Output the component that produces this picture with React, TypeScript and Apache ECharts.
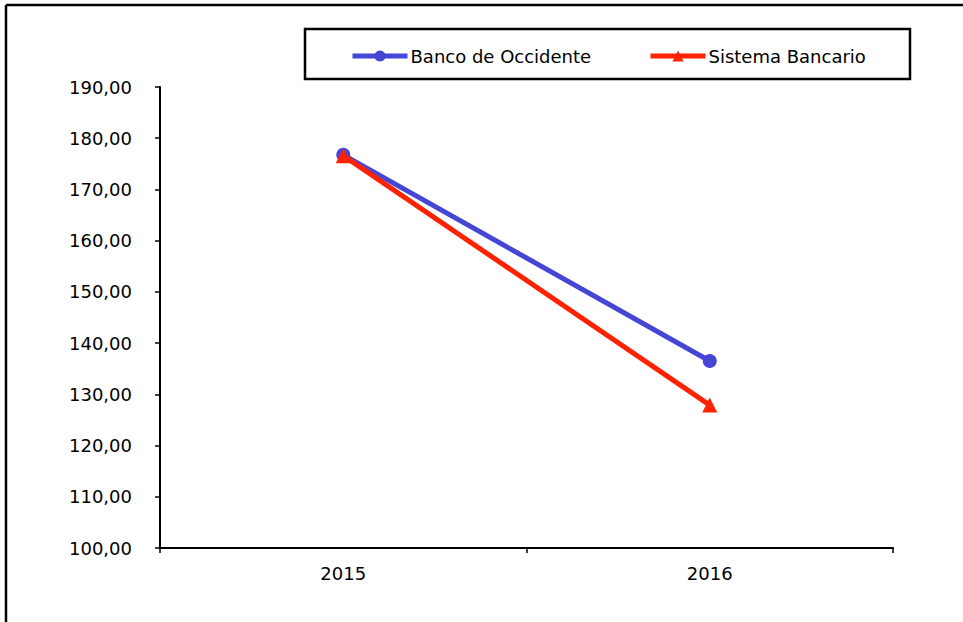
import React, { useEffect, useRef } from "react";
import * as echarts from "echarts";

const categories = ["2015", "2016"];
const bancoOccidente = [176.75, 136.5];
const sistemaBancario = [176.6, 127.9];
const seriesNames = ["Banco de Occidente", "Sistema Bancario"];

const FONT = "DejaVu Sans";

export default function App() {
  const ref = useRef<HTMLDivElement>(null);
  useEffect(() => {
    if (!ref.current) return;
    const chart = echarts.init(ref.current, undefined, { renderer: "svg" });
    const legendBase = {
      top: 47,
      padding: 0,
      itemWidth: 55,
      itemHeight: 14,
      itemGap: 0,
      lineStyle: { width: 5 },
      textStyle: { fontFamily: FONT, fontSize: 18, color: "#000", padding: [0, 0, 0, -2] },
    };
    chart.setOption({
      animation: false,
      backgroundColor: "#ffffff",
      textStyle: { fontFamily: FONT },
      grid: { left: 160, right: 70, top: 87, bottom: 74, containLabel: false },
      legend: [
        { ...legendBase, data: [seriesNames[0]], left: 350 },
        { ...legendBase, data: [seriesNames[1]], left: 648 },
      ],
      xAxis: {
        type: "category",
        data: categories,
        boundaryGap: true,
        axisLine: { lineStyle: { color: "#000", width: 2 } },
        axisTick: { show: true, length: 5, inside: false, lineStyle: { color: "#000", width: 1.5 } },
        axisLabel: { fontFamily: FONT, fontSize: 18, color: "#000", margin: 16 },
        splitLine: { show: false },
      },
      yAxis: {
        type: "value",
        min: 100,
        max: 190,
        interval: 10,
        axisLine: { show: true, lineStyle: { color: "#000", width: 2 } },
        axisTick: { show: true, length: 5, lineStyle: { color: "#000", width: 1.5 } },
        axisLabel: {
          fontFamily: FONT,
          fontSize: 18,
          color: "#000",
          margin: 28,
          formatter: (v: number) => v.toFixed(2).replace(".", ","),
        },
        splitLine: { show: false },
      },
      series: [
        {
          name: seriesNames[0],
          type: "line",
          data: bancoOccidente,
          symbol: "circle",
          symbolSize: 14,
          lineStyle: { color: "#4646D6", width: 5 },
          itemStyle: { color: "#4646D6" },
          z: 2,
        },
        {
          name: seriesNames[1],
          type: "line",
          data: sistemaBancario,
          symbol: "triangle",
          symbolSize: 15,
          lineStyle: { color: "#FF2200", width: 5 },
          itemStyle: { color: "#FF2200" },
          z: 3,
        },
      ],
      graphic: [
        {
          type: "line",
          shape: { x1: 6, y1: 5, x2: 963, y2: 5 },
          style: { stroke: "#000", lineWidth: 2.5 },
        },
        {
          type: "line",
          shape: { x1: 6, y1: 5, x2: 6, y2: 622 },
          style: { stroke: "#000", lineWidth: 2.5 },
        },
        {
          type: "rect",
          shape: { x: 305, y: 29, width: 605, height: 50 },
          style: { fill: "none", stroke: "#000", lineWidth: 2.5 },
          z: -1,
        },
      ],
    });
    return () => chart.dispose();
  }, []);
  return (
    <div
      ref={ref}
      style={{ position: "fixed", left: 0, top: 0, width: 963, height: 622 }}
    />
  );
}
